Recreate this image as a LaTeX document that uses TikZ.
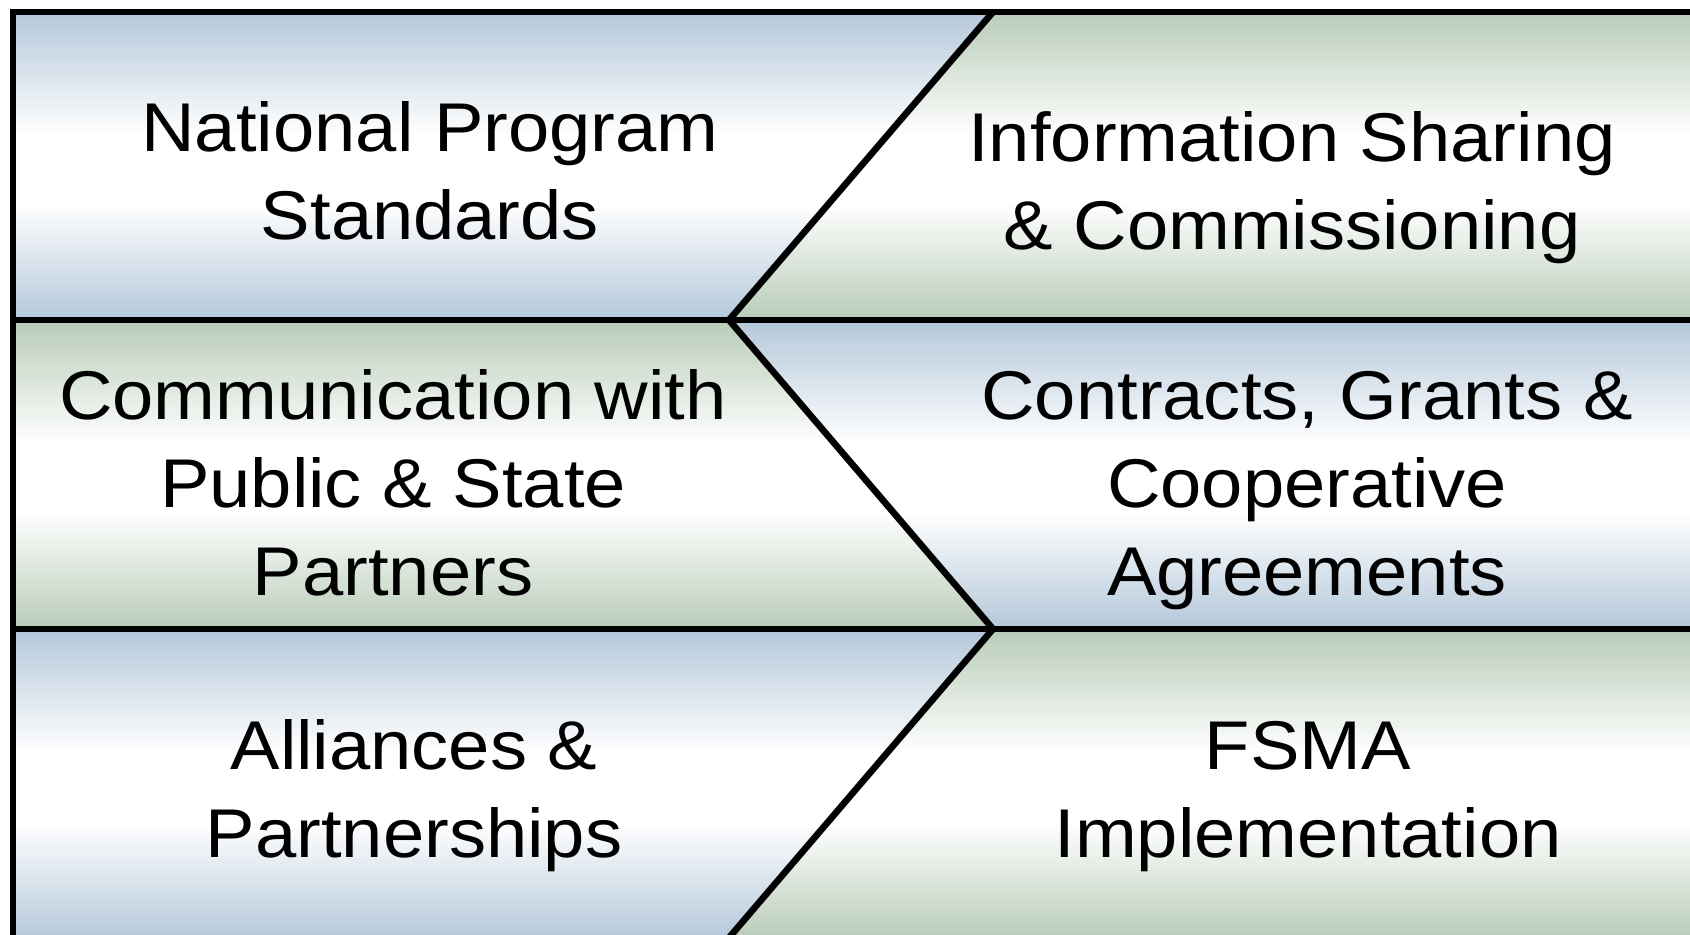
\documentclass[tikz,border=0pt]{standalone}
\usepackage{fontspec}
\setmainfont{Liberation Sans}[FakeStretch=1.075]
\definecolor{bluet}{RGB}{180,200,218}
\definecolor{greent}{RGB}{184,204,184}
\pgfdeclareverticalshading{blueband}{100bp}{color(0bp)=(bluet); color(25bp)=(bluet); color(44bp)=(white); color(55bp)=(white); color(75bp)=(bluet); color(100bp)=(bluet)}
\pgfdeclareverticalshading{greenband}{100bp}{color(0bp)=(greent); color(25bp)=(greent); color(44bp)=(white); color(55bp)=(white); color(75bp)=(greent); color(100bp)=(greent)}
\begin{document}
\begin{tikzpicture}[x=0.5pt,y=-0.5pt,
  bluefill/.style={shading=blueband},
  greenfill/.style={shading=greenband},
  border/.style={line width=3.3pt,line join=miter},
  lbl/.style={font=\fontsize{34.5pt}{44pt}\selectfont,align=center,anchor=base,inner sep=0pt}]
\useasboundingbox (0,0) rectangle (1690,934);
\clip (0,0) rectangle (1690,934);
\coordinate (A) at (13,12);
\coordinate (B) at (993,12);
\coordinate (C) at (1700,12);
\coordinate (D) at (13,320);
\coordinate (E) at (729,320);
\coordinate (F) at (1700,320);
\coordinate (G) at (13,629);
\coordinate (H) at (993,629);
\coordinate (I) at (1700,629);
\coordinate (J) at (13,940);
\coordinate (K) at (727,940);
\coordinate (L) at (1700,940);
\fill[white] (0,0) rectangle (1690,934);
\shade[bluefill] (A) -- (B) -- (E) -- (D) -- cycle;
\shade[greenfill] (B) -- (C) -- (F) -- (E) -- cycle;
\shade[greenfill] (D) -- (E) -- (H) -- (G) -- cycle;
\shade[bluefill] (E) -- (F) -- (I) -- (H) -- cycle;
\shade[bluefill] (G) -- (H) -- (K) -- (J) -- cycle;
\shade[greenfill] (H) -- (I) -- (L) -- (K) -- cycle;
\draw[border] (C) -- (A) -- (J);
\draw[border] (D) -- (F);
\draw[border] (G) -- (I);
\draw[border] (B) -- (E) -- (H) -- (K);
\node[lbl] (nps) at (430,239) {National Program\\Standards};
\node[lbl] (isc) at (1292,249) {Information Sharing\\\& Commissioning};
\node[lbl] (cps) at (393,595) {Communication with\\Public \& State\\Partners};
\node[lbl] (cgc) at (1307,595) {Contracts, Grants \&\\Cooperative\\Agreements};
\node[lbl] (ap) at (414,857) {Alliances \&\\Partnerships};
\node[lbl] (fsma) at (1308,857) {FSMA\\Implementation};
\end{tikzpicture}
\end{document}
